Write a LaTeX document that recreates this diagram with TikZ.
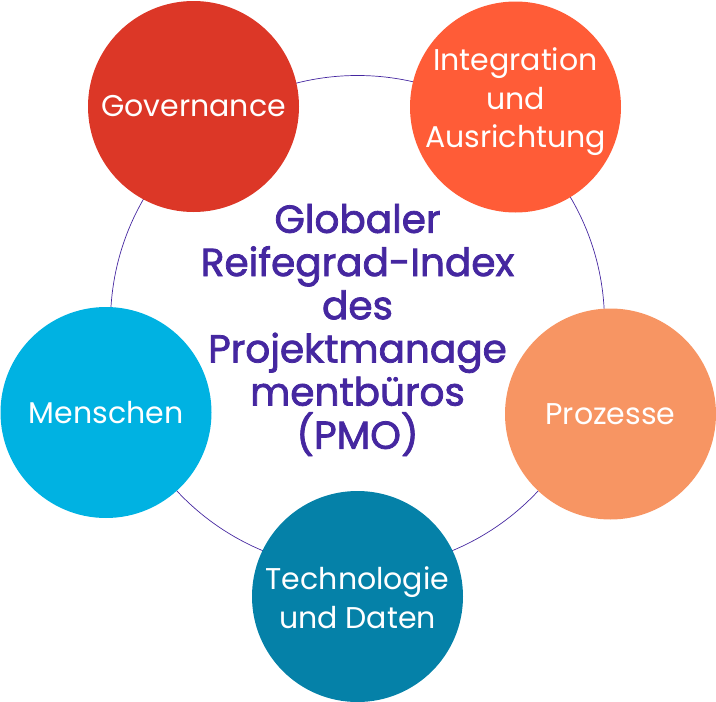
\documentclass[tikz,border=0pt]{standalone}
\usepackage{fontspec}
\setmainfont{Poppins}
\newfontfamily\titlefont[FakeBold=2]{Poppins}
\definecolor{govred}{HTML}{DC3727}
\definecolor{intorange}{HTML}{FF5C37}
\definecolor{prozorange}{HTML}{F79563}
\definecolor{menblue}{HTML}{00B2E2}
\definecolor{techblue}{HTML}{0581A8}
\definecolor{titlepurple}{HTML}{4527A0}
\tikzset{
  ringline/.style={draw=titlepurple, line width=0.7pt},
  bubble/.style={circle, minimum size=211pt, inner sep=0pt},
  bubbletext/.style={text=white, align=center, inner sep=0pt,
    font=\fontsize{30}{38.5}\selectfont},
  titletext/.style={text=titlepurple, align=center, font=\fontsize{39}{43.2}\titlefont}
}
\begin{document}
\begin{tikzpicture}[x=1pt,y=-1pt]
\useasboundingbox (0,0) rectangle (716,702);
\coordinate (hub) at (357.5,322.5);
\draw[ringline] (hub) circle (247);
\node[bubble, fill=govred, label={[bubbletext]center:Governance}] (gov) at (193.5,106.5) {};
\node[bubble, fill=intorange, label={[bubbletext, yshift=5pt]center:Integration\\und\\Ausrichtung}] (int) at (515.5,107) {};
\node[bubble, fill=menblue, label={[bubbletext]center:Menschen}] (men) at (106,412.5) {};
\node[bubble, fill=prozorange, label={[bubbletext]center:Prozesse}] (proz) at (610.5,414) {};
\node[bubble, fill=techblue, label={[bubbletext, yshift=-1pt]center:Technologie\\und Daten}] (tech) at (357.5,596.5) {};
\node[titletext] (title) at (357.5,330) {Globaler\\Reifegrad-Index\\des\\Projektmanage\\mentbüros\\(PMO)};
\end{tikzpicture}
\end{document}
